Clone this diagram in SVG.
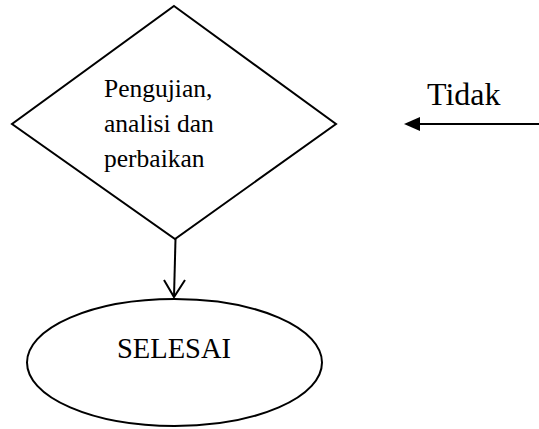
<svg xmlns="http://www.w3.org/2000/svg" width="539" height="429" viewBox="0 0 539 429">
<style>
.shape{fill:#fff;stroke:#000;stroke-width:2}
.line{fill:none;stroke:#000;stroke-width:2}
text{font-family:'Liberation Serif','Times New Roman',serif;fill:#000}
</style>
<rect width="539" height="429" fill="#fff"/>
<g id="connectors">
<path class="line" d="M539,124 L418,124"/>
<path d="M420,117 L404,124 L420,131 Z" fill="#000"/>
<path class="line" d="M175.5,239 L174,297"/>
<path class="line" d="M164,280 L174,297 L185,280"/>
</g>
<g id="decision">
<polygon class="shape" points="174,6 336,124 175,239 12,124"/>
<text font-size="25.5" x="104" y="97">Pengujian,</text>
<text font-size="25.5" x="104" y="132">analisi dan</text>
<text font-size="25.5" x="104" y="167">perbaikan</text>
</g>
<g id="end">
<ellipse class="shape" cx="174.5" cy="362.5" rx="147.5" ry="63.5"/>
<text font-size="28.5" x="117" y="358">SELESAI</text>
</g>
<g id="label-tidak">
<text font-size="32" x="427" y="105">Tidak</text>
</g>
</svg>
